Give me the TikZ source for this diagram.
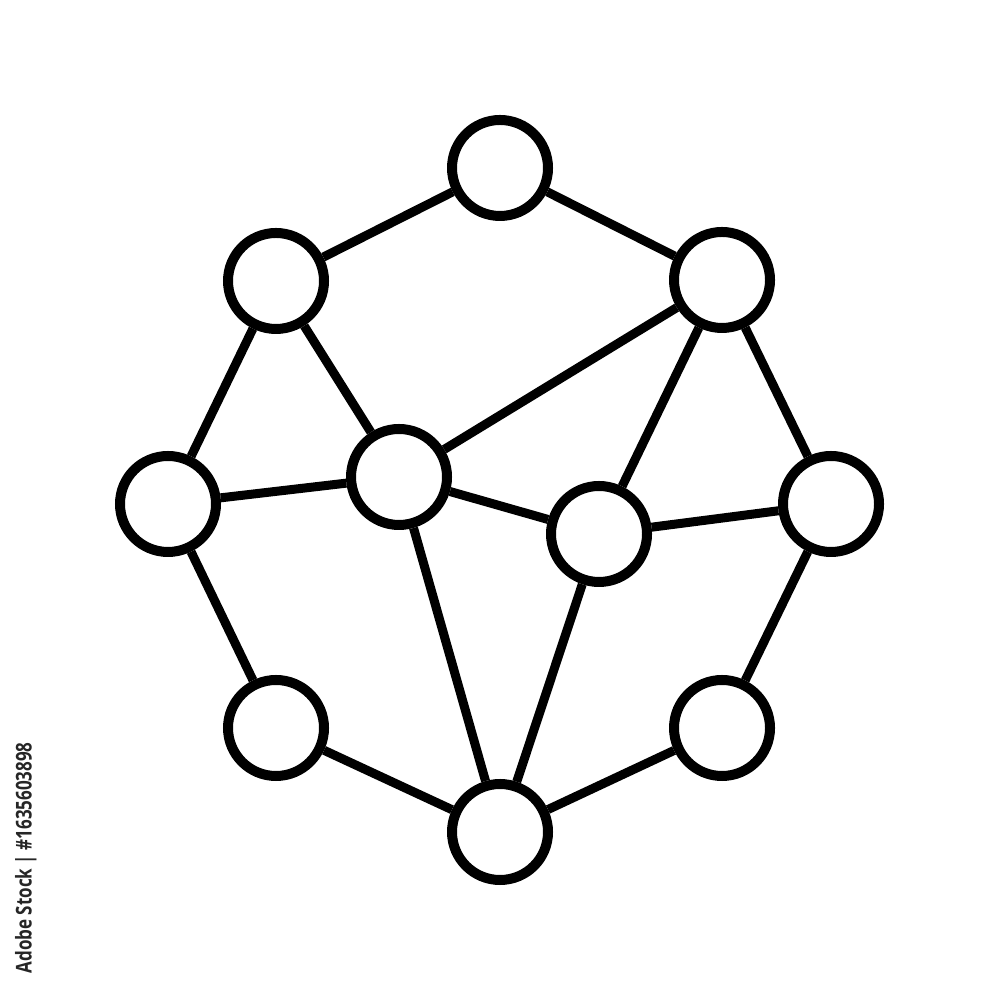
\documentclass[tikz,border=0pt]{standalone}
\usepackage{fontspec}
\setsansfont{Open Sans}
\usepackage{tikz}

\begin{document}
\begin{tikzpicture}[
    hub/.style={
        circle, draw=black, fill=white,
        line width=0.1cm,
        inner sep=0pt,
        minimum size=0.96cm        % vòng tròn nút
    },
    link/.style={line width=0.09cm, black},
    mark text/.style={font=\sffamily\fontsize{6.2}{7}\selectfont, text=black!85, rotate=90, anchor=base west, inner sep=0pt}
]
\useasboundingbox (0,0) rectangle (10,10);

% --- Các nút: vòng ngoài ---
\node[hub] (top) at (5.00,8.32) {};
\node[hub] (ul) at (2.76,7.19) {};
\node[hub] (ur) at (7.22,7.20) {};
\node[hub] (lft) at (1.68,4.96) {};
\node[hub] (rgt) at (8.31,4.96) {};
\node[hub] (ll) at (2.76,2.72) {};
\node[hub] (lr) at (7.22,2.72) {};
\node[hub] (bot) at (5.00,1.68) {};

% --- Các nút: bên trong ---
\node[hub] (cl) at (3.99,5.23) {};
\node[hub] (cr) at (5.99,4.66) {};

% --- Vẽ các cạnh ---
\draw[link] (top) -- (ul);
\draw[link] (top) -- (ur);
\draw[link] (ul) -- (lft);
\draw[link] (ul) -- (cl);
\draw[link] (ur) -- (cl);
\draw[link] (ur) -- (cr);
\draw[link] (ur) -- (rgt);
\draw[link] (lft) -- (cl);
\draw[link] (lft) -- (ll);
\draw[link] (cl) -- (cr);
\draw[link] (cl) -- (bot);
\draw[link] (cr) -- (rgt);
\draw[link] (cr) -- (bot);
\draw[link] (ll) -- (bot);
\draw[link] (lr) -- (bot);
\draw[link] (rgt) -- (lr);

% --- Chữ dọc bên trái ---
\node[mark text] (stock) at (0.315,0.26) {\scalebox{0.78}[1]{\bfseries Adobe Stock | \#1635603898}};

\end{tikzpicture}
\end{document}
